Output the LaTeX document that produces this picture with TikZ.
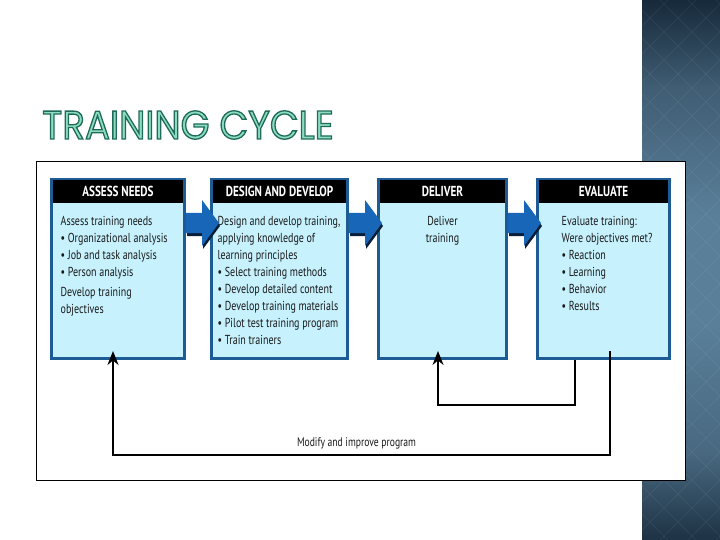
\documentclass[tikz,border=0pt]{standalone}
\usepackage{fontspec}
\setmainfont{PT Sans}[FakeStretch=0.77]
\newfontfamily\titlefont{Poppins}[FakeStretch=0.93]
\usetikzlibrary{arrows.meta,calc}

\definecolor{stripdark}{HTML}{17293A}
\definecolor{stripmid}{HTML}{5A7F99}
\definecolor{striplow}{HTML}{1D3244}
\definecolor{stagefill}{HTML}{C6F1FD}
\definecolor{stageedge}{HTML}{1D5B94}
\definecolor{flowblue}{HTML}{1766B8}
\definecolor{flowshadow}{HTML}{0B1E38}
\definecolor{titlefill}{HTML}{8EDCC0}
\definecolor{bodytext}{HTML}{1A1A1A}

% outlined letters: fill and stroke (text render mode 2)
\newcommand\outlined[1]{\special{pdf:literal direct 2 Tr 1.3 w 0.118 0.42 0.353 RG}#1\special{pdf:literal direct 0 Tr}}

% tikz maps the path onto 25bp--75bp of the shading
\pgfdeclareverticalshading{stripshade}{100bp}{color(0bp)=(striplow); color(25bp)=(striplow); color(33bp)=(stripmid!70!striplow); color(45bp)=(stripmid); color(55bp)=(stripmid); color(67bp)=(stripmid!60!stripdark); color(75bp)=(stripdark); color(100bp)=(stripdark)}

\tikzset{
  stage/.style    = { draw=stageedge, line width=3pt, fill=stagefill, minimum height=179pt, inner sep=0pt },
  head/.style     = { fill=black, text=white, minimum height=23pt, inner sep=0pt, font=\bfseries\fontsize{14.5}{16}\selectfont },
  body/.style     = { text=bodytext, inner sep=0pt, font=\fontsize{13}{17}\selectfont },
  feedback/.style = { line width=2pt, black, -{Stealth[length=14pt,width=11pt]} },
  frame/.style    = { draw=black, line width=1pt, fill=white },
  stripgrid/.style = { white, opacity=0.05, line width=1pt },
  titletext/.style = { text=titlefill, inner sep=0pt, font=\titlefont\fontsize{40}{40}\selectfont },
  flowarrow/.pic  = {
    \fill[flowshadow] (1,13) -- (17,13) -- (17,26) -- (34,3) -- (17,-20) -- (17,-7) -- (1,-7) -- cycle;
    \fill[flowblue] (0,-10) -- (16,-10) -- (16,-23) -- (33,0) -- (16,23) -- (16,10) -- (0,10) -- cycle;
  },
}

\begin{document}
\begin{tikzpicture}[x=1pt,y=-1pt]
    \useasboundingbox (0,0) rectangle (720,540);

    % side strip
    \fill[shading=stripshade] (642,0) rectangle (720,540);
    \begin{scope}
        \clip (642,0) rectangle (720,540);
        \foreach \k in {100,128,...,720}
            \draw[stripgrid] (\k,0) -- ++(540,540) (\k+540,0) -- ++(-540,540);
    \end{scope}

    % title
    \node[titletext, anchor=base west] (title) at (42,139) {\outlined{TRAINING CYCLE}};

    % frame of the figure
    \draw[frame] (36,162) rectangle (685,480);

    % stages
    \node[stage, minimum width=133pt] (assess)   at (118,269)   {};
    \node[stage, minimum width=136pt] (design)   at (279.5,269) {};
    \node[stage, minimum width=128pt] (deliver)  at (442.5,269) {};
    \node[stage, minimum width=132pt] (evaluate) at (603.5,269) {};

    % headers
    \node[head, minimum width=130pt, anchor=north] (assesshead)   at ([yshift=-1.5pt]assess.north)   {ASSESS NEEDS};
    \node[head, minimum width=133pt, anchor=north] (designhead)   at ([yshift=-1.5pt]design.north)   {DESIGN AND DEVELOP};
    \node[head, minimum width=125pt, anchor=north] (deliverhead)  at ([yshift=-1.5pt]deliver.north)  {DELIVER};
    \node[head, minimum width=129pt, anchor=north] (evaluatehead) at ([yshift=-1.5pt]evaluate.north) {EVALUATE};

    % texts
    \node[body, anchor=north west, align=left] (assesstext) at ($(assess.north west)+(10.5,38.5)$)
        {Assess training needs\\
         \textbullet\ Organizational analysis\\
         \textbullet\ Job and task analysis\\
         \textbullet\ Person analysis\\[3pt]
         Develop training\\
         objectives};
    \node[body, anchor=north west, align=left] (designtext) at ($(design.north west)+(7.5,38.5)$)
        {Design and develop training,\\
         applying knowledge of\\
         learning principles\\
         \textbullet\ Select training methods\\
         \textbullet\ Develop detailed content\\
         \textbullet\ Develop training materials\\
         \textbullet\ Pilot test training program\\
         \textbullet\ Train trainers};
    \node[body, anchor=north, align=center] (delivertext) at ($(deliver.north)+(0,38.5)$)
        {Deliver\\ training};
    \node[body, anchor=north west, align=left] (evaluatetext) at ($(evaluate.north west)+(25.5,38.5)$)
        {Evaluate training:\\
         Were objectives met?\\
         \textbullet\ Reaction\\
         \textbullet\ Learning\\
         \textbullet\ Behavior\\
         \textbullet\ Results};

    % arrows between stages
    \coordinate (a1) at (assess.east |- 0,223);
    \coordinate (a2) at (design.east |- 0,223);
    \coordinate (a3) at (deliver.east |- 0,223);
    \foreach \i in {1,2,3}
        \pic at (a\i) {flowarrow};

    % feedback loops
    \coordinate (loopL) at (113,455);
    \coordinate (loopR) at (610,455);
    \coordinate (innerR) at (575,405);
    \coordinate (innerL) at (438,405);
    \draw[feedback, {Stealth[length=14pt,width=11pt]}-, shorten <=-9pt, shorten >=-9pt]
        (assess.south -| loopL) -- (loopL) -- node[pos=0.49, above=5pt, body, font=\fontsize{12.5}{14}\selectfont] (modify) {Modify and improve program} (loopR) -- (evaluate.south -| loopR);
    \draw[feedback, shorten >=-9pt] (evaluate.south -| innerR) -- (innerR) -- (innerL) -- (deliver.south -| innerL);
\end{tikzpicture}
\end{document}
